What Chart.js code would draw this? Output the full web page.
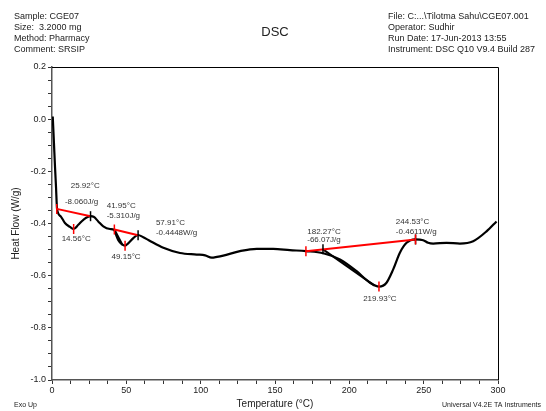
<!DOCTYPE html>
<html lang="en">
<head>
    <meta charset="UTF-8">
    <title>DSC</title>
    <style>
        body {
            margin: 0;
            background: #fff;
        }
        #wrap {
            width: 546px;
            height: 411px;
        }
    </style>
    <script src="https://cdn.jsdelivr.net/npm/chart.js"></script>
</head>
<body>

<div id="wrap"><canvas id="dsc" width="546" height="411"></canvas></div>

<script>
    // curve (temperature in °C, heat flow in W/g)
    const temperature = [0.5, 1.3, 2.0, 2.7, 3.4, 5.8, 8.7, 12.1, 14.6, 17.7, 21.1, 26.0, 28.0, 31.1, 34.5, 39.0, 41.8,
        43.0, 44.6, 46.9, 49.1, 51.3, 54.7, 57.9, 61.4, 64.8, 74.9, 86.1, 97.3, 103, 107.4, 111, 115.2, 126.4,
        137.7, 148.8, 160, 170.8, 182.5, 193.7, 204.9, 213.9, 220.1, 225, 229.5, 234, 238.5, 244.3, 249.7,
        253, 256.4, 265.4, 274.4, 283.3, 292.3, 299];
    const heatFlow = [0.01, -0.09, -0.18, -0.26, -0.344, -0.372, -0.398, -0.413, -0.421, -0.405, -0.386, -0.372, -0.374,
        -0.392, -0.411, -0.421, -0.424, -0.442, -0.464, -0.479, -0.485, -0.476, -0.456, -0.444, -0.453, -0.463,
        -0.493, -0.513, -0.519, -0.522, -0.531, -0.528, -0.523, -0.506, -0.497, -0.497, -0.502, -0.506, -0.514,
        -0.538, -0.583, -0.627, -0.642, -0.627, -0.576, -0.512, -0.474, -0.461, -0.464, -0.474, -0.477, -0.474,
        -0.477, -0.468, -0.43, -0.392];

    // integration baselines (red)
    const base1T = [3.2, 25.92], base1Y = [-0.344, -0.372];
    const base2T = [41.95, 57.91], base2Y = [-0.423, -0.4448];
    const base3T = [170.8, 244.53], base3Y = [-0.506, -0.4611];

    // onset tangents (black)
    const tan1T = [41.95, 47.5], tan1Y = [-0.423, -0.483];
    const tan2T = [182.27, 217], tan2Y = [-0.499, -0.638];

    // cursor marks
    const redMarkT = [3.2, 14.56, 41.95, 49.15, 170.8, 219.93, 244.53];
    const redMarkY = [-0.344, -0.421, -0.423, -0.485, -0.506, -0.642, -0.4611];
    const blackMarkT = [25.92, 57.91, 182.27, 244.53];
    const blackMarkY = [-0.372, -0.4448, -0.499, -0.4611];

    // result labels: text, anchor temperature, anchor heat flow
    const noteText = ["25.92°C", "-8.060J/g", "14.56°C", "41.95°C", "-5.310J/g", "57.91°C", "-0.4448W/g",
        "49.15°C", "182.27°C", "-66.07J/g", "219.93°C", "244.53°C", "-0.4611W/g"];
    const noteT = [12.6, 8.7, 6.5, 36.8, 36.8, 69.9, 69.9, 40.1, 171.7, 171.7, 209.3, 231.3, 231.3];
    const noteY = [-0.255, -0.315, -0.459, -0.332, -0.370, -0.398, -0.434, -0.528, -0.430, -0.464, -0.688, -0.394, -0.430];

    const headerLeft = ["Sample: CGE07", "Size:  3.2000 mg", "Method: Pharmacy", "Comment: SRSIP"];
    const headerRight = ["File: C:...\\Tilotma Sahu\\CGE07.001", "Operator: Sudhir", "Run Date: 17-Jun-2013 13:55",
        "Instrument: DSC Q10 V9.4 Build 287"];

    const pts = (xs, ys) => xs.map((x, i) => ({x: x, y: ys[i]}));
    const FONT = "Arial, 'Liberation Sans', sans-serif";

    function seg(xs, ys, color, order) {
        return {
            data: pts(xs, ys),
            borderColor: color,
            borderWidth: 2,
            pointRadius: 0,
            tension: 0,
            order: order
        };
    }

    function marks(xs, ys, color) {
        return {
            data: pts(xs, ys),
            showLine: false,
            pointStyle: 'line',
            rotation: 90,
            pointRadius: 5,
            pointBorderWidth: 1.5,
            borderColor: color,
            backgroundColor: color,
            order: 0
        };
    }

    const textPlugin = {
        id: 'textPlugin',
        afterDraw(chart) {
            const ctx = chart.ctx;
            const a = chart.chartArea;
            const xs = chart.scales.x, ys = chart.scales.y;
            ctx.save();

            // frame top and right
            ctx.strokeStyle = '#000';
            ctx.lineWidth = 1;
            ctx.beginPath();
            ctx.moveTo(a.left, a.top + 0.5);
            ctx.lineTo(a.right + 0.5, a.top + 0.5);
            ctx.lineTo(a.right + 0.5, a.bottom);
            ctx.stroke();

            ctx.fillStyle = '#222';
            ctx.textBaseline = 'middle';
            ctx.font = '9px ' + FONT;
            ctx.textAlign = 'left';
            headerLeft.forEach((t, i) => ctx.fillText(t, 14, 17 + i * 11));
            headerRight.forEach((t, i) => ctx.fillText(t, 388, 17 + i * 11));
            ctx.font = '13px ' + FONT;
            ctx.textAlign = 'center';
            ctx.fillText("DSC", 275, 32);

            ctx.font = '7px ' + FONT;
            ctx.textAlign = 'left';
            ctx.fillText("Exo Up", 14, 405);
            ctx.textAlign = 'right';
            ctx.fillText("Universal V4.2E TA Instruments", 541, 405);

            ctx.font = '8px ' + FONT;
            ctx.textAlign = 'left';
            ctx.fillStyle = '#333';
            noteText.forEach((t, i) => {
                ctx.fillText(t, xs.getPixelForValue(noteT[i]), ys.getPixelForValue(noteY[i]));
            });
            ctx.restore();
        }
    };

    new Chart(document.getElementById('dsc'), {
        type: 'line',
        data: {
            datasets: [
                {
                    data: pts(temperature, heatFlow),
                    borderColor: '#000',
                    borderWidth: 2.2,
                    pointRadius: 0,
                    cubicInterpolationMode: 'monotone',
                    order: 3
                },
                seg(base1T, base1Y, '#ff0000', 1),
                seg(base2T, base2Y, '#ff0000', 1),
                seg(base3T, base3Y, '#ff0000', 1),
                seg(tan1T, tan1Y, '#000', 2),
                seg(tan2T, tan2Y, '#000', 2),
                marks(redMarkT, redMarkY, '#ff0000'),
                marks(blackMarkT, blackMarkY, '#000')
            ]
        },
        options: {
            responsive: false,
            animation: false,
            layout: {padding: {left: 0, top: 67, right: 48, bottom: 0}},
            plugins: {
                legend: {display: false},
                tooltip: {enabled: false}
            },
            scales: {
                x: {
                    type: 'linear',
                    min: 0,
                    max: 300,
                    afterFit: s => { s.height = 31; },
                    border: {color: '#555', width: 1.5},
                    grid: {drawOnChartArea: false, tickLength: 4, tickColor: '#333'},
                    ticks: {
                        stepSize: 12.5,
                        autoSkip: false,
                        maxRotation: 0,
                        padding: 1,
                        color: '#222',
                        font: {size: 9, family: FONT},
                        callback: v => (v % 50 === 0 ? String(v) : '')
                    },
                    title: {
                        display: true,
                        text: 'Temperature (°C)',
                        color: '#222',
                        font: {size: 10, family: FONT},
                        padding: {top: 0, bottom: 1}
                    }
                },
                y: {
                    min: -1.0,
                    max: 0.2,
                    afterFit: s => { s.width = 52; },
                    border: {color: '#555', width: 1.5},
                    grid: {drawOnChartArea: false, tickLength: 4, tickColor: '#333'},
                    ticks: {
                        stepSize: 0.05,
                        autoSkip: false,
                        padding: 2,
                        color: '#222',
                        font: {size: 9, family: FONT},
                        callback: v => {
                            const k = Math.round(v / 0.2);
                            return Math.abs(k * 0.2 - v) < 1e-6 ? (k * 0.2).toFixed(1) : '';
                        }
                    },
                    title: {
                        display: true,
                        text: 'Heat Flow (W/g)',
                        color: '#222',
                        font: {size: 10, family: FONT},
                        padding: {top: 10, bottom: 0}
                    }
                }
            }
        },
        plugins: [textPlugin]
    });
</script>

</body>
</html>
